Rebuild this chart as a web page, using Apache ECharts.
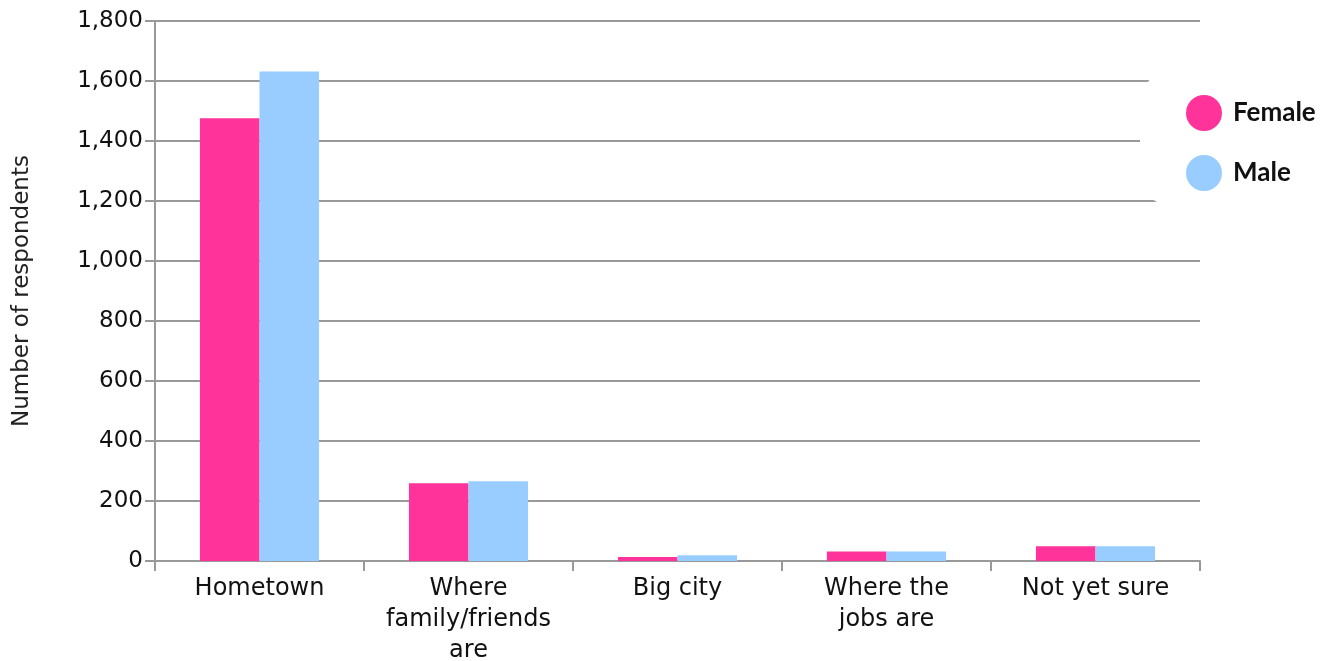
<!DOCTYPE html>
<html><head><meta charset="utf-8">
<script src="https://cdn.jsdelivr.net/npm/echarts@6/dist/echarts.min.js"></script>
<style>html,body{margin:0;padding:0;background:#fff}#c{width:1325px;height:661px}</style>
</head><body><div id="c"></div>
<script>
const categories = ["Hometown", "Where\nfamily/friends\nare", "Big city", "Where the\njobs are", "Not yet sure"];
const female = [1476, 259, 13, 32, 49];
const male = [1632, 266, 19, 32, 49];
const seriesNames = ["Female", "Male"];
const yTicks = {min: 0, max: 1800, interval: 200};

const chart = echarts.init(document.getElementById('c'));
const font = '"DejaVu Sans", sans-serif';
chart.setOption({
  animation: false,
  textStyle: {fontFamily: font},
  grid: {left: 155, right: 125, top: 21, bottom: 100, containLabel: false, outerBoundsMode: 'none'},
  legend: {
    data: seriesNames, orient: 'vertical', left: 1140, top: 72,
    icon: 'circle', itemWidth: 36, itemHeight: 36, itemGap: 24,
    backgroundColor: '#fff', borderRadius: 30, padding: [23, 6, 14, 46],
    textStyle: {fontSize: 26, fontWeight: 'bold', color: '#111', fontFamily: '"Lato", sans-serif', padding: [0, 0, 0, 6]}
  },
  xAxis: {
    type: 'category', data: categories,
    axisLine: {lineStyle: {color: '#999', width: 2}},
    axisTick: {show: true, length: 10, lineStyle: {color: '#999', width: 2}},
    axisLabel: {fontSize: 24, color: '#111', lineHeight: 31, margin: 12, interval: 0}
  },
  yAxis: {
    type: 'value', min: yTicks.min, max: yTicks.max, interval: yTicks.interval,
    name: 'Number of respondents', nameLocation: 'middle', nameGap: 121, nameRotate: 90,
    nameTextStyle: {fontSize: 23, color: '#222'},
    axisLine: {show: true, lineStyle: {color: '#999', width: 2}},
    axisTick: {show: true, length: 10, lineStyle: {color: '#999', width: 2}},
    axisLabel: {fontSize: 23, color: '#111', margin: 12,
      formatter: v => v.toLocaleString('en-US')},
    splitLine: {lineStyle: {color: '#999', width: 2}}
  },
  series: [
    {name: seriesNames[0], type: 'bar', data: female, barGap: '0%', barCategoryGap: '43%',
     itemStyle: {color: '#FF3399'}},
    {name: seriesNames[1], type: 'bar', data: male,
     itemStyle: {color: '#99CCFF'}}
  ]
});
</script></body></html>
